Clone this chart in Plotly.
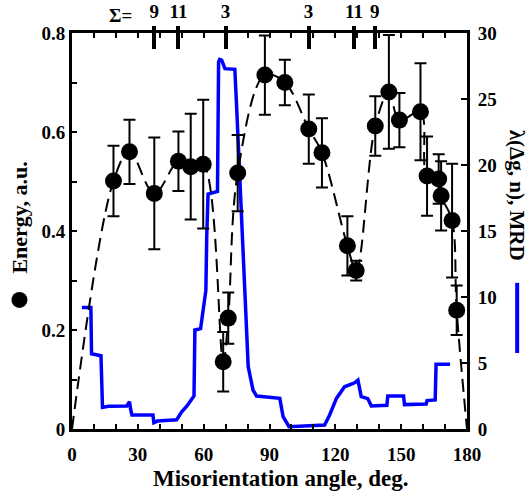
import plotly.graph_objects as go

# energy points (misorientation angle, deg / energy, a.u. / error)
angle = [18.9, 26.2, 37.5, 48.5, 54.1, 59.8, 68.9, 71.2, 75.5, 87.9, 97.0, 107.9,
         113.9, 125.5, 129.5, 138.2, 144.4, 149.2, 158.8, 161.8, 167.1, 168.2, 173.2, 175.3]
energy = [0.501, 0.560, 0.476, 0.541, 0.530, 0.535, 0.136, 0.224, 0.517, 0.715, 0.700, 0.606,
          0.558, 0.370, 0.320, 0.612, 0.681, 0.624, 0.641, 0.511, 0.505, 0.471, 0.421, 0.240]
energy_err = [0.071, 0.065, 0.113, 0.060, 0.107, 0.130, 0.060, 0.052, 0.077, 0.080, 0.046, 0.070,
              0.070, 0.060, 0.020, 0.060, 0.115, 0.055, 0.098, 0.080, 0.050, 0.070, 0.115, 0.050]

# dashed guide curve: ends at zero energy
guide_angle = [0] + angle + [180]
guide_energy = [0] + energy + [0]

# MRD of the misorientation distribution (blue)
mrd_angle = [4.5, 8.6, 8.9, 13.2, 13.9, 16.6, 25.0, 26.2, 26.7, 27.3, 36.9, 37.3, 38.9, 47.7,
             50.0, 52.3, 55.6, 56.0, 58.6, 59.8, 61.0, 61.4, 62.0, 66.3, 66.8, 67.3, 68.2, 69.7,
             74.2, 75.0, 77.7, 78.8, 80.3, 82.5, 84.1, 94.7, 96.2, 98.9, 115.1, 117.4, 120.5,
             124.2, 128.8, 130.3, 131.8, 134.8, 136.4, 143.5, 143.9, 151.1, 151.5, 161.4, 161.8,
             165.5, 165.9, 172.3]
mrd = [9.2, 9.2, 5.7, 5.55, 1.64, 1.72, 1.75, 2.07, 1.5, 1.06, 1.06, 0.48, 0.6, 0.7,
       1.3, 1.73, 2.5, 7.5, 7.6, 9.3, 10.5, 14.6, 17.8, 18.0, 27.8, 28.0, 27.95, 27.3,
       27.25, 24.5, 13.6, 10.5, 4.72, 2.95, 2.5, 2.32, 0.93, 0.17, 0.3, 1.06, 2.32,
       3.2, 3.5, 3.7, 2.45, 2.3, 1.74, 1.8, 2.5, 2.5, 1.85, 1.9, 2.15,
       2.2, 4.9, 4.9]

# special boundaries on top axis
sigma_angle = [37.5, 48.5, 70.0, 107.8, 128.5, 138.0]
sigma_label = ["9", "11", "3", "3", "11", "9"]

x_ticks = list(range(0, 181, 10))
x_labels = [str(v) if v % 30 == 0 else "" for v in x_ticks]
e_ticks = [0, 0.1, 0.2, 0.3, 0.4, 0.5, 0.6, 0.7, 0.8]
e_labels = ["0", "", "0.2", "", "0.4", "", "0.6", "", "0.8"]
mrd_ticks = [0, 5, 10, 15, 20, 25, 30]

FONT = "Liberation Serif"

fig = go.Figure()
fig.add_trace(go.Scatter(x=mrd_angle, y=mrd, mode="lines",
                         line=dict(color="#0000ff", width=3.5), yaxis="y", xaxis="x"))
# invisible carriers so the two top sigma axes get drawn
for ax in ("x2", "x3"):
    fig.add_trace(go.Scatter(x=sigma_angle, y=[0] * len(sigma_angle), mode="markers",
                             marker=dict(opacity=0), hoverinfo="skip",
                             xaxis=ax, yaxis="y"))
fig.add_trace(go.Scatter(x=guide_angle, y=guide_energy, mode="lines",
                         line=dict(color="black", width=2, dash="13px,7px", shape="spline",
                                   smoothing=1.0),
                         yaxis="y2", xaxis="x"))
fig.add_trace(go.Scatter(x=angle, y=energy, mode="markers",
                         marker=dict(color="black", size=17),
                         error_y=dict(type="data", array=energy_err, color="black",
                                      thickness=2, width=6),
                         yaxis="y2", xaxis="x"))

fig.update_layout(
    width=529, height=491,
    margin=dict(l=72, r=62, t=33, b=62),
    paper_bgcolor="white", plot_bgcolor="white",
    showlegend=False,
    font=dict(family=FONT, size=19, color="black", weight="bold"),
    xaxis=dict(range=[0, 180], tickvals=x_ticks, ticktext=x_labels, ticks="inside",
               ticklen=5, tickwidth=1.5, tickcolor="black", showline=True, linewidth=3,
               linecolor="black", mirror="ticks", showgrid=False, zeroline=False,
               ticklabelstandoff=6, automargin=False),
    xaxis2=dict(range=[0, 180], overlaying="x", side="top", anchor="y", tickvals=sigma_angle,
                ticks="inside", ticklen=16, tickwidth=3.5, tickcolor="black",
                showticklabels=False, showline=False, showgrid=False, zeroline=False,
                automargin=False),
    xaxis3=dict(range=[0, 180], overlaying="x", side="top", anchor="y", tickvals=sigma_angle,
                ticktext=sigma_label, ticks="outside", ticklen=6, tickwidth=3.5,
                tickcolor="black", showline=False, showgrid=False, zeroline=False,
                automargin=False),
    yaxis=dict(range=[0, 30], side="right", tickvals=mrd_ticks, ticks="inside", ticklen=6,
               tickwidth=1.5, tickcolor="black", showline=True, linewidth=3,
               linecolor="black", showgrid=False, zeroline=False, automargin=False,
               ticklabelstandoff=4),
    yaxis2=dict(range=[0, 0.8], overlaying="y", side="left", tickvals=e_ticks,
                ticktext=e_labels, ticks="inside", ticklen=5, tickwidth=1.5,
                tickcolor="black", showline=True, linewidth=3, linecolor="black",
                showgrid=False, zeroline=False, automargin=False),
    annotations=[
        dict(text="Misorientation angle, deg.", xref="paper", yref="paper", x=0.53, y=-0.124,
             showarrow=False, font=dict(size=23), xanchor="center", yanchor="middle"),
        dict(text="Energy, a.u.", xref="paper", yref="paper", x=-0.133, y=0.535,
             textangle=-90, showarrow=False, font=dict(size=22),
             xanchor="center", yanchor="middle"),
        dict(text="λ(Δg, n), MRD", xref="paper", yref="paper", x=1.127, y=0.591,
             textangle=90, showarrow=False, font=dict(size=21),
             xanchor="center", yanchor="middle"),
        dict(text="Σ=", xref="paper", yref="paper", x=0.122, y=1.045,
             showarrow=False, font=dict(size=19), xanchor="center", yanchor="middle"),
    ],
    shapes=[
        dict(type="circle", xref="paper", yref="paper", xsizemode="pixel", ysizemode="pixel",
             xanchor=-0.133, yanchor=0.326, x0=-8, x1=8, y0=-8, y1=8,
             fillcolor="black", line=dict(color="black", width=0)),
        dict(type="line", xref="paper", yref="paper", x0=1.127, x1=1.127, y0=0.192, y1=0.369,
             line=dict(color="#0000ff", width=4)),
    ],
)

fig.write_html("out.html", config={"displayModeBar": False},
               post_script="document.body.style.margin='0';")
